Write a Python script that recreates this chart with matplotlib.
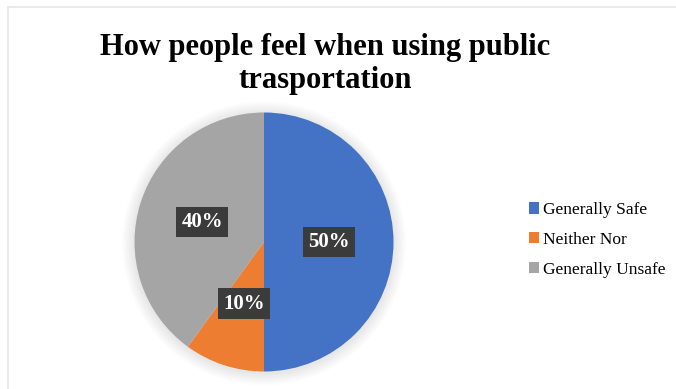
import matplotlib.pyplot as plt
from matplotlib.patches import Rectangle, Circle

categories = ["Generally Safe", "Neither Nor", "Generally Unsafe"]
shares = [50, 10, 40]
colors = ["#4472C4", "#ED7D31", "#A5A5A5"]
title = "How people feel when using public\ntrasportation"

plt.rcParams['font.family'] = ['Liberation Serif', 'DejaVu Serif']

fig = plt.figure(figsize=(6.76, 3.89), dpi=100)

# faint frame of the original chart area
fig.patches.append(Rectangle((8/676, -0.1), 1.2, (389-7)/389 + 0.1, transform=fig.transFigure,
                             fill=False, edgecolor="#e6e6e6", linewidth=1.2))

cx, cy, r = 264, 242, 129.5
ax = fig.add_axes([(cx-r)/676, (389-cy-r)/389, 2*r/676, 2*r/389])
# soft shadow round the pie
for k in range(8):
    ax.add_patch(Circle((0, -0.01), 1.0 + 0.012*(8-k), color="#000000", alpha=0.012,
                        linewidth=0, zorder=0, clip_on=False))
wedges, texts, autotexts = ax.pie(shares, colors=colors, startangle=90, counterclock=False,
                                  autopct="%d%%", pctdistance=0.5,
                                  wedgeprops=dict(linewidth=0, zorder=1))
for t in autotexts:
    t.set_color("white")
    t.set_fontweight("bold")
    t.set_fontsize(15)
    t.set_zorder(3)
    t.set_bbox(dict(boxstyle="square,pad=0.25", facecolor="#3b3b3b", edgecolor="none"))
ax.set_xlim(-1, 1)
ax.set_ylim(-1, 1)
ax.set_aspect("equal")

fig.text(325/676, 1-64/389, title, ha="center", va="center", fontsize=22,
         fontweight="bold", linespacing=1.2)

fig.legend(wedges, categories, loc="center left", bbox_to_anchor=(513/676, 1-240/389),
           frameon=False, prop=dict(family="Liberation Serif", size=12.5),
           handlelength=0.6, handleheight=0.6, handletextpad=0.2, labelspacing=0.8)

plt.savefig("out.png", dpi=100)
